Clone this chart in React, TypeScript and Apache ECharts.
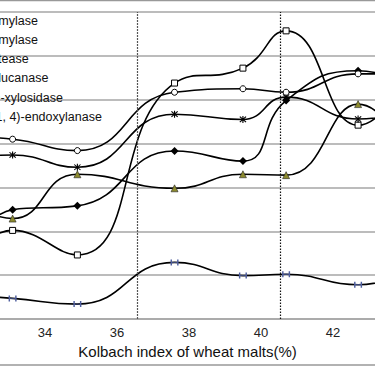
import React, { useEffect, useRef } from "react";
import * as echarts from "echarts";

// Kolbach index (%) of each malt sample; first and last lie outside the visible window
const kolbachIndex = [31.4, 33.1, 34.9, 37.6, 39.5, 40.7, 42.7, 44.6];
const xTicks = [34, 36, 38, 40, 42];
const xRange = [32.75, 43.17];
const enzymeNames = [
  "α-amylase",
  "β-amylase",
  "protease",
  "β-glucanase",
  "β-D-xylosidase",
  "β-(1, 4)-endoxylanase",
];
const alphaAmylase = [6.6, 24.9, 25.8, 38.3, 36.0, 49.8, 56.6, 51.1];
const betaAmylase = [6.6, 20.2, 14.6, 53.8, 57.2, 65.7, 44.2, 65.9];
const protease = [30.5, 22.9, 33.0, 29.8, 33.0, 32.8, 49.0, 24.9];
const betaGlucanase = [36.3, 37.4, 34.6, 46.7, 45.5, 50.6, 45.6, 48.8];
const betaXylosidase = [41.7, 41.0, 38.4, 51.7, 52.5, 51.7, 55.9, 55.6];
const endoxylanase = [5.7, 4.7, 3.4, 12.9, 9.9, 10.2, 7.8, 13.1];
const guideLines = [36.56, 40.55];

const FONT = "Liberation Sans, Arial, Helvetica, sans-serif";

const ASTERISK =
  "path://M4.3,0H5.7V10H4.3Z M0.6,1.6L1.6,0.6L9.4,8.4L8.4,9.4Z M8.4,0.6L9.4,1.6L1.6,9.4L0.6,8.4Z";
const HBAR = "path://M0,0H1.8V10H0Z M8.2,0H10V10H8.2Z M0,4.3H10V5.7H0Z";

export default function App() {
  const ref = useRef<HTMLDivElement>(null);
  useEffect(() => {
    if (!ref.current) return;
    const chart = echarts.init(ref.current, null, { renderer: "svg" });
    const pair = (vals: number[]) => kolbachIndex.map((x, i) => [x, vals[i]]);
    const lineStyle = { color: "#000", width: 1.6 };
    const mk = (
      name: string,
      vals: number[],
      symbol: string,
      size: number | number[],
      itemStyle: any
    ) => ({
      name,
      type: "line",
      smooth: true,
      data: pair(vals),
      symbol,
      symbolSize: size,
      showAllSymbol: true,
      lineStyle,
      itemStyle,
      clip: true,
    });
    const series: any[] = [
      mk(enzymeNames[0], alphaAmylase, "diamond", 8, { color: "#000" }),
      mk(enzymeNames[1], betaAmylase, "rect", 6, {
        color: "#fff",
        borderColor: "#000",
        borderWidth: 1,
      }),
      mk(enzymeNames[2], protease, "triangle", 7, {
        color: "#8c8a2e",
        borderColor: "#222",
        borderWidth: 0.6,
      }),
      mk(enzymeNames[3], betaGlucanase, ASTERISK, 7, { color: "#000" }),
      mk(enzymeNames[4], betaXylosidase, "circle", 6, {
        color: "#fff",
        borderColor: "#000",
        borderWidth: 1,
      }),
      mk(enzymeNames[5], endoxylanase, HBAR, [8, 6], { color: "#4f5f9f" }),
    ];
    series[0].markLine = {
      silent: true,
      symbol: "none",
      label: { show: false },
      data: [
        { xAxis: guideLines[0], lineStyle: { color: "#555", width: 1.2, type: [2, 1] } },
        { xAxis: guideLines[1], lineStyle: { color: "#111", width: 1.2, type: [1.5, 1.5] } },
      ],
    };

    chart.setOption({
      animation: false,
      backgroundColor: "#fff",
      textStyle: { fontFamily: FONT },
      grid: { left: 0, right: 0, top: 12, bottom: 47 },
      legend: {
        orient: "vertical",
        left: -51,
        top: 14.5,
        padding: 0,
        itemWidth: 25,
        itemHeight: 14,
        itemGap: 6,
        data: enzymeNames,
        textStyle: { fontSize: 12.5, color: "#111", fontFamily: FONT },
      },
      xAxis: {
        type: "value",
        min: xRange[0],
        max: xRange[1],
        name: "Kolbach index of wheat malts(%)",
        nameLocation: "middle",
        nameGap: 23,
        nameTextStyle: { fontSize: 15, color: "#111", fontFamily: FONT },
        axisLine: { lineStyle: { color: "#a6a6a6", width: 1.5 } },
        axisTick: { show: false },
        axisLabel: {
          fontSize: 13,
          color: "#222",
          margin: 7,
          customValues: xTicks,
          fontFamily: FONT,
        },
        splitLine: { show: false },
      },
      yAxis: {
        type: "value",
        min: 0,
        max: 70,
        interval: 10,
        axisLine: { show: false },
        axisTick: { show: false },
        axisLabel: { show: false },
        splitLine: { lineStyle: { color: "#a6a6a6", width: 1.5 } },
      },
      graphic: [
        {
          type: "line",
          shape: { x1: 0, y1: 0.5, x2: 375, y2: 0.5 },
          style: { stroke: "#999", lineWidth: 1.5 },
          silent: true,
        },
        {
          type: "line",
          shape: { x1: 0, y1: 365, x2: 375, y2: 365 },
          style: { stroke: "#999", lineWidth: 1.5 },
          silent: true,
        },
      ],
      series,
    });
    return () => chart.dispose();
  }, []);
  return (
    <div
      ref={ref}
      style={{ position: "absolute", left: 0, top: 0, width: 375, height: 366 }}
    />
  );
}
